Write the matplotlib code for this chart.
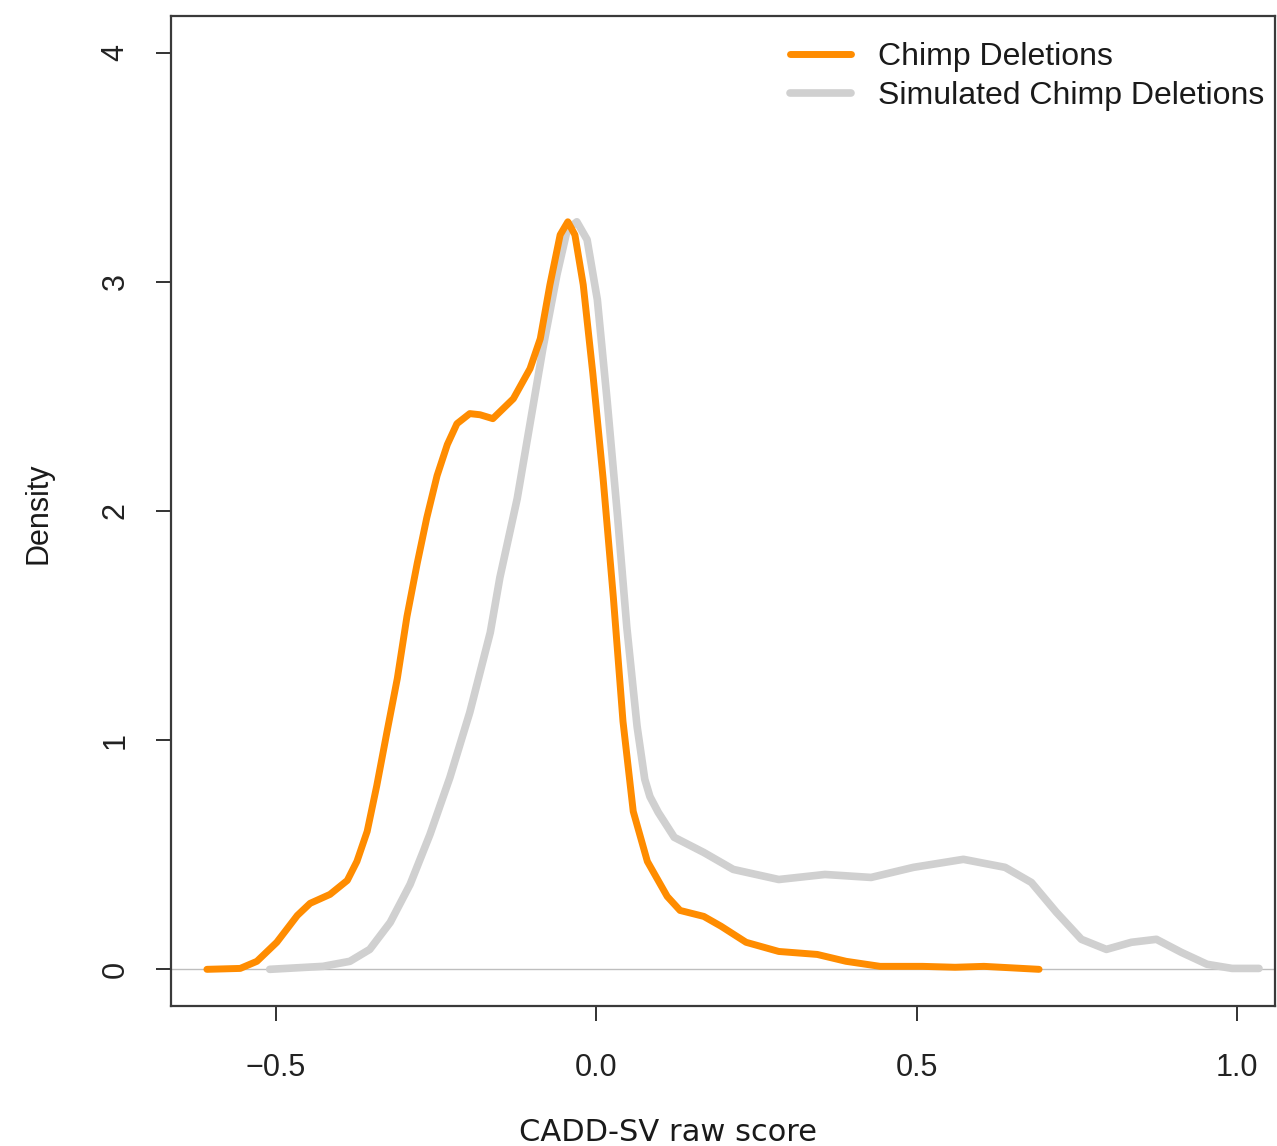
import matplotlib
matplotlib.use("Agg")
import matplotlib.pyplot as plt

# density curves (x = raw score, y = density)
chimp_x = [-0.607, -0.555, -0.529, -0.498, -0.466, -0.446, -0.415, -0.388, -0.373,
           -0.357, -0.342, -0.326, -0.310, -0.295, -0.279, -0.264, -0.248, -0.232,
           -0.217, -0.197, -0.181, -0.161, -0.129, -0.103, -0.087, -0.072, -0.056,
           -0.044, -0.033, -0.020, -0.005, 0.011, 0.027, 0.042, 0.058, 0.080,
           0.111, 0.131, 0.168, 0.195, 0.234, 0.285, 0.345, 0.390, 0.443,
           0.509, 0.560, 0.605, 0.691]
chimp_y = [0.0, 0.004, 0.035, 0.118, 0.235, 0.288, 0.327, 0.388, 0.471,
           0.602, 0.802, 1.038, 1.269, 1.539, 1.771, 1.971, 2.154, 2.290,
           2.381, 2.425, 2.420, 2.403, 2.490, 2.621, 2.752, 2.987, 3.205,
           3.262, 3.205, 2.987, 2.599, 2.141, 1.622, 1.082, 0.689, 0.471,
           0.318, 0.257, 0.231, 0.188, 0.118, 0.078, 0.065, 0.035, 0.013,
           0.013, 0.009, 0.013, 0.0]

sim_x = [-0.509, -0.426, -0.384, -0.353, -0.321, -0.290, -0.259, -0.228, -0.197,
         -0.165, -0.150, -0.123, -0.103, -0.083, -0.061, -0.045, -0.030, -0.014,
         0.002, 0.017, 0.033, 0.048, 0.064, 0.076, 0.084, 0.097, 0.122, 0.168,
         0.214, 0.285, 0.357, 0.429, 0.495, 0.573, 0.638, 0.679, 0.718, 0.757,
         0.796, 0.835, 0.874, 0.913, 0.953, 0.992, 1.034]
sim_y = [0.0, 0.013, 0.035, 0.087, 0.205, 0.371, 0.589, 0.837, 1.121,
         1.470, 1.710, 2.054, 2.381, 2.708, 3.031, 3.227, 3.262, 3.184,
         2.922, 2.490, 1.993, 1.492, 1.060, 0.829, 0.754, 0.685, 0.576, 0.510,
         0.436, 0.392, 0.414, 0.401, 0.445, 0.480, 0.445, 0.379, 0.249, 0.131,
         0.087, 0.118, 0.131, 0.074, 0.022, 0.004, 0.004]

series_labels = ["Chimp Deletions", "Simulated Chimp Deletions"]
x_ticks = [-0.5, 0.0, 0.5, 1.0]
x_tick_labels = ["\u22120.5", "0.0", "0.5", "1.0"]
y_ticks = [0, 1, 2, 3, 4]

W, H = 1277, 1146
fig = plt.figure(figsize=(W / 100, H / 100), dpi=100)
ax = fig.add_axes([171 / W, 1 - 1006 / H, (1275 - 171) / W, (1006 - 16) / H])

ax.axhline(0, color="#bebebe", lw=1.0, zorder=1)
sim_line, = ax.plot(sim_x, sim_y, color="#d0d0d0", lw=5.5, solid_capstyle="round",
                    solid_joinstyle="round", zorder=2)
chimp_line, = ax.plot(chimp_x, chimp_y, color="#ff8c00", lw=5, solid_capstyle="round",
                      solid_joinstyle="round", zorder=3)

ax.set_xlim(-0.663, 1.059)
ax.set_ylim(-0.16, 4.16)

font = "Liberation Sans"
ax.set_xticks(x_ticks)
ax.set_xticklabels(x_tick_labels, fontsize=22, family=font)
ax.set_yticks(y_ticks)
ax.set_yticklabels([str(v) for v in y_ticks], fontsize=22, family=font,
                   rotation=90, va="center")
ax.tick_params(axis="x", direction="out", length=11, width=1.3, pad=23, colors="#222222")
ax.tick_params(axis="y", direction="out", length=11, width=1.3, pad=18, colors="#222222")

for s in ax.spines.values():
    s.set_color("#3a3a3a")
    s.set_linewidth(1.6)

leg = ax.legend([chimp_line, sim_line], series_labels, loc="upper left",
                bbox_to_anchor=(790 / W, 1 - 42 / H), bbox_transform=fig.transFigure,
                frameon=False, prop={"family": font, "size": 23},
                handlelength=1.9, handletextpad=0.85, labelspacing=0.28,
                borderpad=0, borderaxespad=0)
for t in leg.get_texts():
    t.set_color("#1a1a1a")

fig.text(38 / W, 1 - 513 / H, "Density", rotation=90, ha="center", va="center",
         fontsize=22, family=font, color="#1a1a1a")
fig.text(668 / W, 1 - 1141 / H, "CADD-SV raw score", ha="center", va="baseline",
         fontsize=22, family="DejaVu Sans", color="#1a1a1a")

fig.savefig("out.png", dpi=100)
